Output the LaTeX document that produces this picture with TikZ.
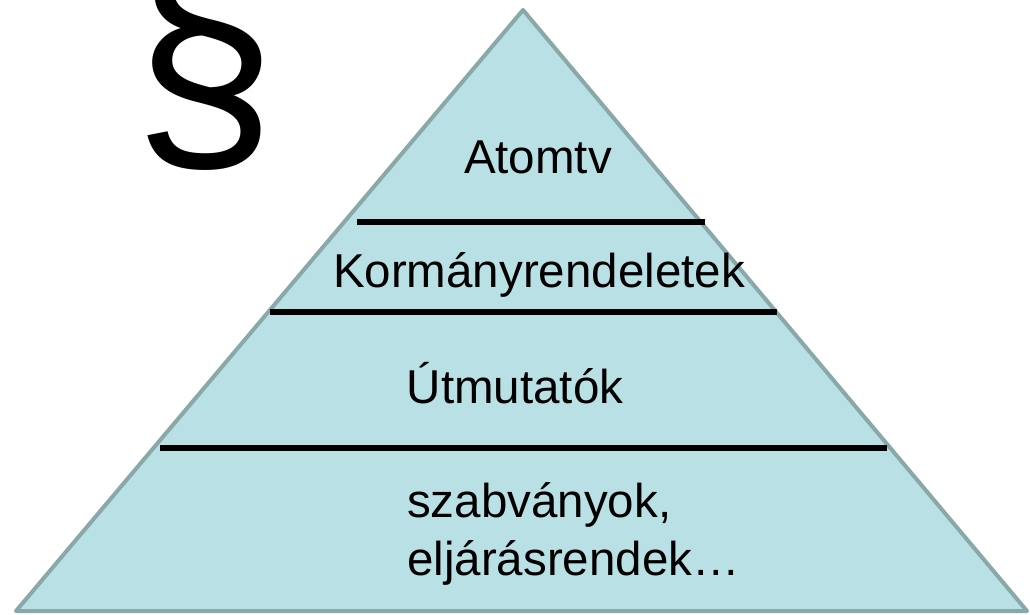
\documentclass[tikz,border=0pt]{standalone}
\usepackage{fontspec}
\setmainfont{Liberation Sans}
\definecolor{pyrfill}{HTML}{B9E0E4}
\definecolor{pyredge}{HTML}{8BA8A9}
\begin{document}
\begin{tikzpicture}[x=1pt,y=-1pt,
  lbl/.style={inner sep=0pt,anchor=base,font=\fontsize{47.5}{57.5}\selectfont},
  sep/.style={line width=5.5pt},
  para/.style={inner sep=0pt,anchor=base west,font=\fontsize{270}{300}\selectfont}]

\useasboundingbox (0,0) rectangle (1030,615);
\clip (0,0) rectangle (1030,615);

% Piramis
\coordinate (apex) at (523,10);
\coordinate (bl) at (16,611);
\coordinate (br) at (1027,611);
\draw[fill=pyrfill,draw=pyredge,line width=4pt,line join=round]
(apex) -- (br) -- (bl) -- cycle;

% Szintek
\coordinate (s1a) at (357,222);
\coordinate (s1b) at (705,222);
\coordinate (s2a) at (270,312);
\coordinate (s2b) at (777,312);
\coordinate (s3a) at (160,448);
\coordinate (s3b) at (887,448);
\draw[sep] (s1a) -- (s1b);
\draw[sep] (s2a) -- (s2b);
\draw[sep] (s3a) -- (s3b);

\node[lbl] (atomtv) at (538,173) {Atomtv};
\node[lbl] (korm) at (539,287) {Kormányrendeletek};
\node[lbl] (utm) at (515,403) {Útmutatók};
\node[lbl,anchor=base west,align=left] (szabv) at (407,575)
{szabványok,\\eljárásrendek…};

% Paragrafus
\node[para,xscale=0.95,yscale=0.97] (parag) at (133,148) {§};

\end{tikzpicture}
\end{document}
